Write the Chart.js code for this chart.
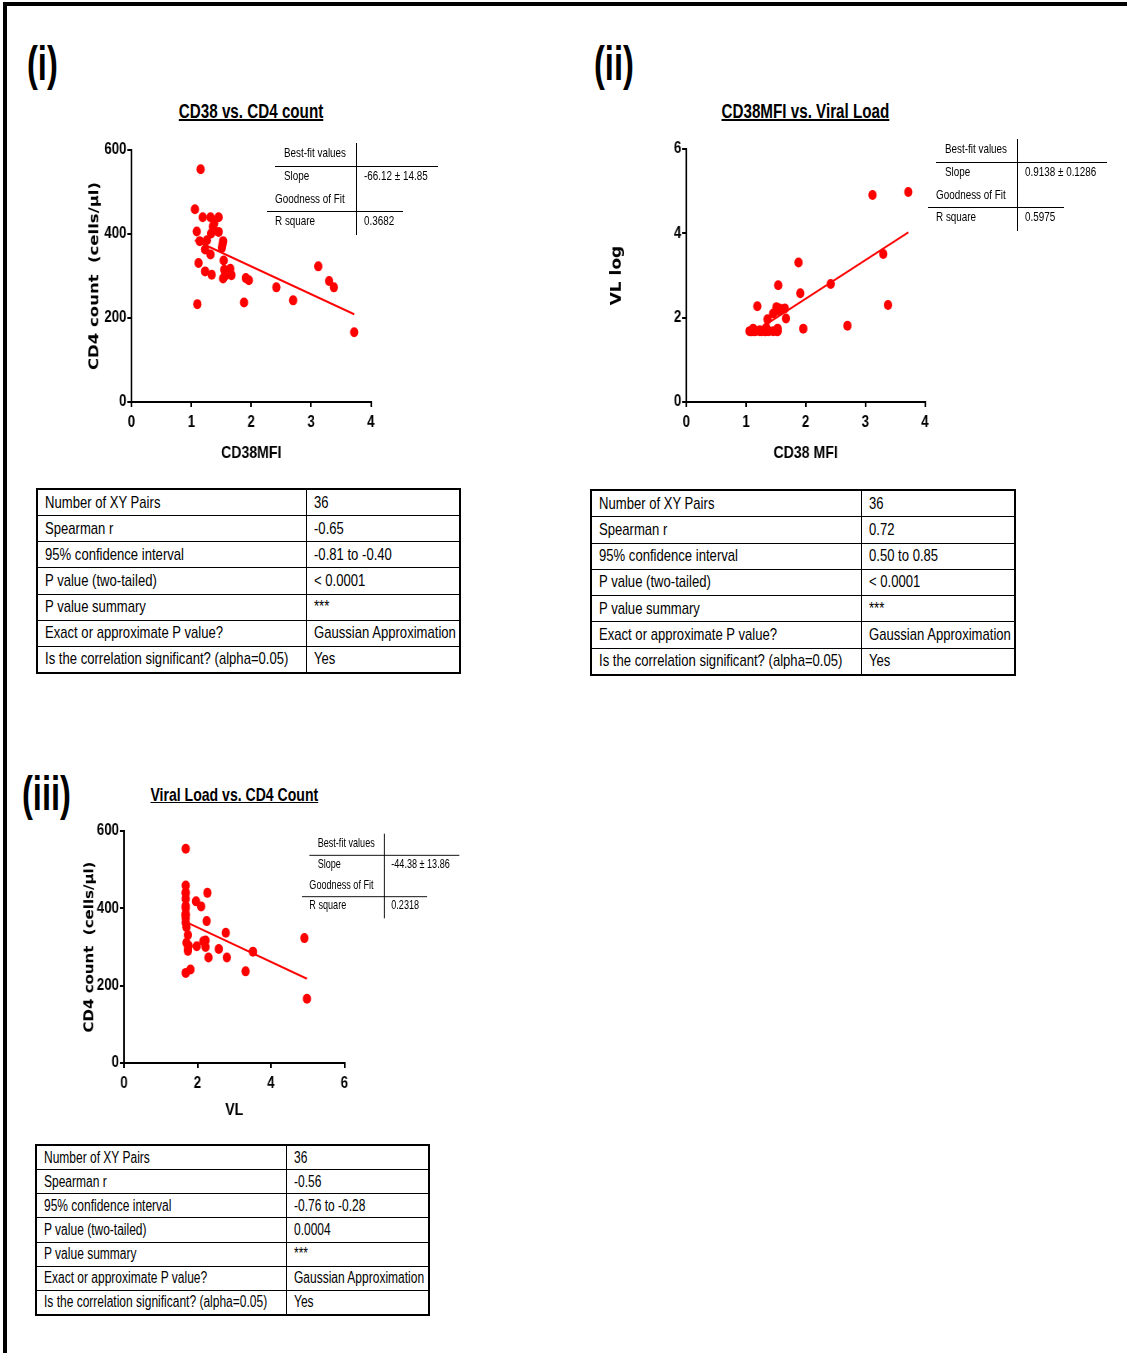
<!DOCTYPE html>
<html>
<head>
<meta charset="utf-8">
<script src="https://cdn.jsdelivr.net/npm/chart.js@4.4.1/dist/chart.umd.min.js"></script>
<style>
  body { margin: 0; background: #fff; }
  #page { position: relative; width: 1127px; height: 1353px; overflow: hidden; background: #fff;
          font-family: "Liberation Sans", Arial, sans-serif; color: #000; }
  .frame-top { position: absolute; left: 3px; right: 0; top: 2px; height: 4px; background: #000; }
  .frame-left { position: absolute; left: 3px; width: 4px; top: 2px; bottom: 0; background: #000; }
  .sx { display: inline-block; transform-origin: 0 50%; white-space: nowrap; }
  .panel { position: absolute; font-weight: bold; font-size: 48px; line-height: 48px; }
  .panel .sx { transform: scaleX(0.68); }
  .title { position: absolute; font-weight: bold; font-size: 20px; text-align: center; white-space: nowrap; width: 300px; }
  .title .sx { transform: scaleX(0.76); transform-origin: 50% 50%; text-decoration: underline; }
  canvas { position: absolute; transform: scaleX(0.83); transform-origin: 0 0; }
  .inset { position: absolute; font-size: 13px; transform-origin: 0 0; }
  .inset div { position: absolute; white-space: nowrap; line-height: 14px; }
  .inset .sx { transform: scaleX(0.76); }
  .inset .vl { width: 1px; background: #000; }
  .inset .hl { height: 1px; background: #000; }
  table.stats { position: absolute; border-collapse: collapse; border: 2px solid #000; font-size: 17px; table-layout: fixed; }
  table.stats td { border: 1px solid #000; padding: 0 0 0 7px; white-space: nowrap; line-height: 18px; overflow: visible; }
  table.stats .sx { transform: scaleX(0.77); }
  #tableC .sx { transform: scaleX(0.75); }
</style>
</head>
<body>
<div id="page">
  <div class="frame-top"></div>
  <div class="frame-left"></div>

  <div class="panel" style="left:27px; top:40px;"><span class="sx">(i)</span></div>
  <div class="panel" style="left:594px; top:40px;"><span class="sx">(ii)</span></div>
  <div class="panel" style="left:22px; top:770px;"><span class="sx">(iii)</span></div>

  <div class="title" style="left:101px; top:100px;"><span class="sx">CD38 vs. CD4 count</span></div>
  <div class="title" style="left:655px; top:100px;"><span class="sx">CD38MFI vs. Viral Load</span></div>
  <div class="title" style="left:84px; top:784px; font-size:18.5px;"><span class="sx">Viral Load vs. CD4 Count</span></div>

  <canvas id="chartCd38Cd4" width="361" height="340" style="left:80px; top:130px;"></canvas>
  <canvas id="chartCd38Vl" width="402" height="340" style="left:600px; top:130px;"></canvas>
  <canvas id="chartVlCd4" width="329" height="320" style="left:80px; top:810px;"></canvas>

  <div id="insetA" class="inset" style="left:267px; top:139px;"></div>
  <div id="insetB" class="inset" style="left:928px; top:135px;"></div>
  <div id="insetC" class="inset" style="left:302px; top:830px; transform: scale(0.92);"></div>

  <table id="tableA" class="stats" style="left:36px; top:488px; width:425px; height:186px;"></table>
  <table id="tableB" class="stats" style="left:590px; top:489px; width:426px; height:187px;"></table>
  <table id="tableC" class="stats" style="left:35px; top:1144px; width:395px; height:172px; font-size:16px;"></table>
</div>

<script>
// one entry per subject (36 pairs)
const cd38Mfi = [3.12, 3.72, 3.30, 3.38, 2.70, 2.42, 1.88, 1.91, 1.96,
    1.155, 1.06, 1.19, 1.32, 1.455, 1.36, 1.09, 1.455, 1.33, 1.14, 1.26,
    1.53, 1.51, 1.23, 1.32, 1.54, 1.12, 1.55, 1.65, 1.23, 1.34, 1.53, 1.67,
    1.10, 1.38, 1.52, 1.56];
const vlLog = [4.91, 4.98, 3.51, 2.30, 1.81, 2.80, 3.31, 2.58, 1.74,
    1.68, 1.68, 2.27, 1.68, 1.68, 1.96, 1.68, 2.10, 1.68, 1.68, 1.68,
    1.68, 2.25, 1.68, 1.70, 2.77, 1.74, 2.16, 2.22, 1.70, 1.76, 1.74, 1.98,
    1.68, 1.68, 1.68, 2.22];
const cd4Count = [323, 166, 288, 273, 242, 273, 237, 295, 290,
    554, 459, 440, 440, 440, 418, 406, 405, 401, 383, 385,
    383, 367, 363, 351, 337, 331, 315, 317, 311, 303, 294, 302,
    233, 425, 375, 300];

// linear fit lines, ends
const fitCd38Cd4X = [1.06, 3.72];
const fitCd38Cd4Y = [385, 209];
const fitCd38VlX = [1.05, 3.72];
const fitCd38VlY = [1.58, 4.02];
const fitVlCd4X = [1.68, 4.98];
const fitVlCd4Y = [365, 218];

// axis ticks
const cd38Ticks = [0, 1, 2, 3, 4];
const vlTicks = [0, 2, 4, 6];
const cd4Ticks = [0, 200, 400, 600];
const vlLogTicks = [0, 2, 4, 6];

// best-fit boxes
const bestFitLabels = ["Best-fit values", "Slope", "Goodness of Fit", "R square"];
const slopeValues = ["-66.12 ± 14.85", "0.9138 ± 0.1286", "-44.38 ± 13.86"];
const rSquareValues = ["0.3682", "0.5975", "0.2318"];

// spearman tables
const statLabels = ["Number of XY Pairs", "Spearman r", "95% confidence interval", "P value (two-tailed)",
    "P value summary", "Exact or approximate P value?", "Is the correlation significant? (alpha=0.05)"];
const statsCd38Cd4 = ["36", "-0.65", "-0.81 to -0.40", "< 0.0001", "***", "Gaussian Approximation", "Yes"];
const statsCd38Vl = ["36", "0.72", "0.50 to 0.85", "< 0.0001", "***", "Gaussian Approximation", "Yes"];
const statsVlCd4 = ["36", "-0.56", "-0.76 to -0.28", "0.0004", "***", "Gaussian Approximation", "Yes"];

const SANS = '"Liberation Sans", Arial, sans-serif';
const WIDE = '"DejaVu Sans", "Liberation Sans", sans-serif';

function toPoints(xs, ys) {
    return xs.map((x, i) => ({ x: x, y: ys[i] }));
}

function makeAxis(ticks, titleText, titleFont, titlePad, size, horizontal) {
    return {
        type: "linear",
        min: ticks[0],
        max: ticks[ticks.length - 1],
        afterBuildTicks: s => { s.ticks = ticks.map(v => ({ value: v })); },
        afterFit: s => { if (horizontal) s.height = size; else s.width = size; },
        grid: { drawOnChartArea: false, drawTicks: true, tickLength: 5, tickWidth: 2, tickColor: "#000", color: "#000", lineWidth: 2 },
        border: { display: true, color: "#000", width: 2 },
        ticks: { color: "#000", font: { family: SANS, weight: "bold", size: 16 }, padding: horizontal ? 6 : 1 },
        title: { display: true, text: titleText, color: "#000", font: titleFont, padding: titlePad }
    };
}

function makeChart(id, xs, ys, fitX, fitY, cfg) {
    new Chart(document.getElementById(id), {
        type: "scatter",
        data: {
            datasets: [
                { data: toPoints(xs, ys), pointRadius: 5, pointBackgroundColor: "#f00", pointBorderWidth: 0, pointHoverRadius: 5 },
                { data: toPoints(fitX, fitY), showLine: true, pointRadius: 0, borderColor: "#f00", borderWidth: 2 }
            ]
        },
        options: {
            responsive: false,
            animation: false,
            devicePixelRatio: 1,
            layout: { padding: cfg.padding },
            plugins: { legend: { display: false }, tooltip: { enabled: false } },
            scales: {
                x: makeAxis(cfg.xTicks, cfg.xTitle, { family: SANS, weight: "bold", size: 17 }, { top: 0, bottom: cfg.xTitlePad }, cfg.xHeight, true),
                y: makeAxis(cfg.yTicks, cfg.yTitle, { family: WIDE, weight: "bold", size: cfg.yTitleSize }, { top: cfg.yTitlePad, bottom: 0 }, cfg.yWidth, false)
            }
        }
    });
}

function buildInset(id, idx, line1Right) {
    const box = document.getElementById(id);
    const txt = (left, top, s) => `<div style="left:${left}px; top:${top}px;"><span class="sx">${s}</span></div>`;
    box.innerHTML =
        `<div class="vl" style="left:89px; top:4px; height:92px;"></div>` +
        `<div class="hl" style="left:8px; top:27px; width:${line1Right - 8}px;"></div>` +
        `<div class="hl" style="left:0px; top:72px; width:136px;"></div>` +
        txt(17, 7, bestFitLabels[0]) +
        txt(17, 30, bestFitLabels[1]) +
        txt(97, 30, slopeValues[idx]) +
        txt(8, 53, bestFitLabels[2]) +
        txt(8, 75, bestFitLabels[3]) +
        txt(97, 75, rSquareValues[idx]);
}

function buildTable(id, values, col1) {
    const table = document.getElementById(id);
    statLabels.forEach((label, i) => {
        const row = document.createElement("tr");
        row.innerHTML = `<td style="width:${col1}px"><span class="sx">${label}</span></td><td><span class="sx">${values[i]}</span></td>`;
        table.appendChild(row);
    });
}

// canvases are squeezed to 0.83 wide by css, so x sizes here are in canvas pixels
makeChart("chartCd38Cd4", cd38Mfi, cd4Count, fitCd38Cd4X, fitCd38Cd4Y, {
    padding: { top: 20, right: 10, left: 0, bottom: 0 },
    xTicks: cd38Ticks, yTicks: cd4Ticks,
    xTitle: "CD38MFI", yTitle: "CD4 count  (cells/µl)",
    xTitlePad: 6, yTitlePad: 8, yTitleSize: 16.5,
    xHeight: 68, yWidth: 62
});

makeChart("chartCd38Vl", cd38Mfi, vlLog, fitCd38VlX, fitCd38VlY, {
    padding: { top: 19, right: 10, left: 0, bottom: 0 },
    xTicks: cd38Ticks, yTicks: vlLogTicks,
    xTitle: "CD38 MFI", yTitle: "VL log",
    xTitlePad: 6, yTitlePad: 10, yTitleSize: 17,
    xHeight: 68, yWidth: 104
});

makeChart("chartVlCd4", vlLog, cd4Count, fitVlCd4X, fitVlCd4Y, {
    padding: { top: 21, right: 10, left: 0, bottom: 0 },
    xTicks: vlTicks, yTicks: cd4Ticks,
    xTitle: "VL", yTitle: "CD4 count  (cells/µl)",
    xTitlePad: 9, yTitlePad: 3, yTitleSize: 15,
    xHeight: 67, yWidth: 53
});

buildInset("insetA", 0, 171);
buildInset("insetB", 1, 179);
buildInset("insetC", 2, 171);

buildTable("tableA", statsCd38Cd4, 261);
buildTable("tableB", statsCd38Vl, 262);
buildTable("tableC", statsVlCd4, 242);
</script>
</body>
</html>
